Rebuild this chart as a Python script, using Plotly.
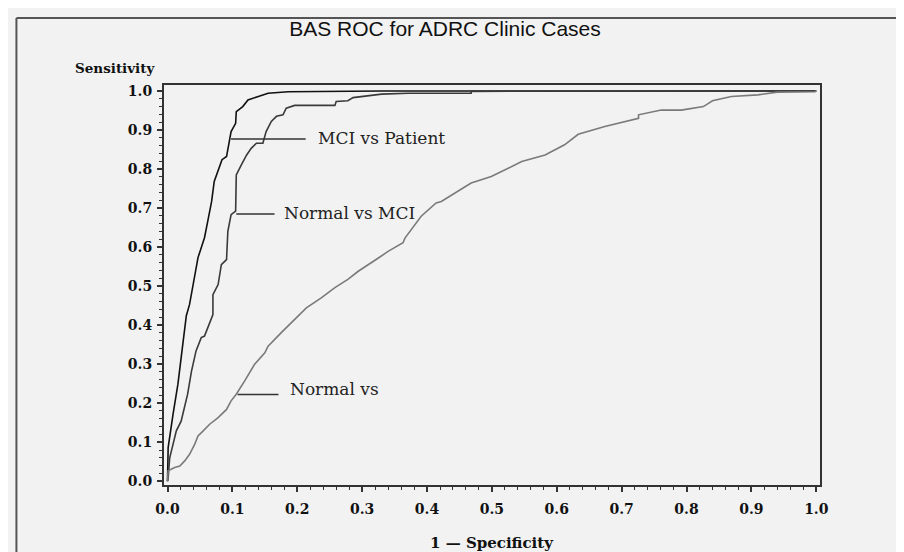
import plotly.graph_objects as go

# ---- data ----
mci_vs_patient_x = [0.0, 0.001, 0.0085, 0.016, 0.021, 0.025, 0.029, 0.034, 0.041, 0.047, 0.052, 0.057,
                    0.062, 0.068, 0.072, 0.078, 0.084, 0.091, 0.096, 0.098, 0.105, 0.106, 0.116, 0.124,
                    0.140, 0.155, 0.186, 0.33, 1.0]
mci_vs_patient_y = [0.0, 0.086, 0.171, 0.248, 0.316, 0.376, 0.424, 0.453, 0.522, 0.573, 0.598, 0.624,
                    0.666, 0.717, 0.768, 0.794, 0.824, 0.832, 0.875, 0.896, 0.917, 0.947, 0.960, 0.977,
                    0.986, 0.994, 0.998, 1.0, 1.0]

normal_vs_mci_x = [0.0, 0.001, 0.0034, 0.0085, 0.0136, 0.021, 0.0265, 0.031, 0.037, 0.044, 0.052, 0.057,
                   0.062, 0.070, 0.070, 0.078, 0.083, 0.091, 0.093, 0.098, 0.105, 0.106, 0.114, 0.122,
                   0.129, 0.137, 0.147, 0.152, 0.160, 0.168, 0.178, 0.183, 0.196, 0.258, 0.260, 0.278,
                   0.286, 0.304, 0.330, 0.371, 0.468, 0.468, 1.0]
normal_vs_mci_y = [0.0, 0.009, 0.060, 0.095, 0.129, 0.154, 0.197, 0.223, 0.282, 0.334, 0.368, 0.372,
                   0.393, 0.427, 0.478, 0.504, 0.555, 0.568, 0.640, 0.683, 0.692, 0.785, 0.811, 0.836,
                   0.853, 0.866, 0.866, 0.896, 0.922, 0.935, 0.939, 0.956, 0.963, 0.963, 0.973, 0.975,
                   0.983, 0.986, 0.992, 0.994, 0.994, 0.999, 1.0]

normal_vs_x = [0.0, 0.001, 0.011, 0.019, 0.0265, 0.034, 0.042, 0.047, 0.055, 0.065, 0.078, 0.091, 0.098,
               0.106, 0.119, 0.134, 0.150, 0.155, 0.175, 0.196, 0.214, 0.237, 0.258, 0.278, 0.294, 0.325,
               0.340, 0.363, 0.366, 0.391, 0.414, 0.422, 0.468, 0.499, 0.546, 0.582, 0.612, 0.633, 0.674,
               0.726, 0.726, 0.761, 0.792, 0.826, 0.840, 0.869, 0.910, 0.940, 0.998, 1.0]
normal_vs_y = [0.0, 0.027, 0.035, 0.039, 0.052, 0.069, 0.095, 0.116, 0.129, 0.146, 0.163, 0.184, 0.206,
               0.223, 0.257, 0.299, 0.329, 0.346, 0.380, 0.414, 0.444, 0.470, 0.496, 0.517, 0.538, 0.572,
               0.589, 0.611, 0.623, 0.679, 0.713, 0.717, 0.764, 0.781, 0.819, 0.836, 0.862, 0.889, 0.909,
               0.930, 0.939, 0.951, 0.951, 0.960, 0.975, 0.986, 0.990, 0.997, 0.998, 1.0]

tick_vals = [0.0, 0.1, 0.2, 0.3, 0.4, 0.5, 0.6, 0.7, 0.8, 0.9, 1.0]
tick_text = ["0.0", "0.1", "0.2", "0.3", "0.4", "0.5", "0.6", "0.7", "0.8", "0.9", "1.0"]

curve_names = ["MCI vs Patient", "Normal vs MCI", "Normal vs"]
curve_colors = ["#111111", "#3a3a3a", "#7a7a7a"]

# ---- layout geometry (pixels) ----
W, H = 904, 552
PL, PR, PT, PB = 156, 811.7, 76.7, 477.5


def px2x(px):
    return (px - PL) / (PR - PL)


def py2y(py):
    return (PB - py) / (PB - PT)


BG = "#f2f2f2"
fig = go.Figure()
for xs, ys, nm, col in [(mci_vs_patient_x, mci_vs_patient_y, curve_names[0], curve_colors[0]),
                        (normal_vs_mci_x, normal_vs_mci_y, curve_names[1], curve_colors[1]),
                        (normal_vs_x, normal_vs_y, curve_names[2], curve_colors[2])]:
    fig.add_trace(go.Scatter(x=xs, y=ys, mode="lines", name=nm,
                             line=dict(color=col, width=1.6), showlegend=False))

tickfont = dict(family="DejaVu Serif", size=14, color="#111111", weight="bold")
axis_common = dict(showline=True, mirror=True, linecolor="#333333", linewidth=2,
                   showgrid=False, zeroline=False, ticks="outside", ticklen=5, tickwidth=1.5,
                   tickcolor="#333333", tickvals=tick_vals, ticktext=tick_text, tickfont=tickfont)

fig.update_layout(
    width=W, height=H,
    paper_bgcolor=BG, plot_bgcolor=BG,
    margin=dict(l=PL, r=W - PR, t=PT, b=H - PB, autoexpand=False),
    title=dict(text="BAS ROC for ADRC Clinic Cases", x=437 / W, xanchor="center",
               y=1 - 21 / H, yanchor="middle",
               font=dict(family="Liberation Sans", size=21, color="#111111")),
    xaxis=dict(range=[-0.0054, 1.0057], ticklabelstandoff=5,
               minor=dict(dtick=0.02, ticks="outside", ticklen=3, tickcolor="#333333", tickwidth=1),
               **axis_common),
    yaxis=dict(range=[-0.0097, 1.0153], ticklabelstandoff=2,
               minor=dict(dtick=0.02, ticks="outside", ticklen=3, tickcolor="#333333", tickwidth=1),
               **axis_common),
)

# axis titles placed as in the reference
fig.add_annotation(text="Sensitivity", xref="paper", yref="paper", x=px2x(149), y=py2y(60),
                   xanchor="right", yanchor="middle", showarrow=False,
                   font=dict(family="DejaVu Serif", size=13.5, color="#111111", weight="bold"))
fig.add_annotation(text="1 \u2014 Specificity", xref="paper", yref="paper", x=0.5, y=py2y(536),
                   xanchor="center", yanchor="middle", showarrow=False,
                   font=dict(family="DejaVu Serif", size=15, color="#111111", weight="bold"))

# curve labels with leader lines
labels = [("MCI vs Patient", 0.098, 0.213, 0.877, 0.229, 0.880),
          ("Normal vs MCI", 0.106, 0.165, 0.685, 0.177, 0.687),
          ("Normal vs", 0.108, 0.171, 0.2225, 0.185, 0.236)]
for txt, x0, x1, ly, tx, ty in labels:
    fig.add_shape(type="line", xref="x", yref="y", x0=x0, x1=x1, y0=ly, y1=ly,
                  line=dict(color="#333333", width=1.5))
    fig.add_annotation(text=txt, xref="x", yref="y", x=tx, y=ty, xanchor="left", yanchor="middle",
                       showarrow=False, font=dict(family="DejaVu Serif", size=17, color="#222222"))

# outer frame (top and left edges)
fig.add_shape(type="line", xref="paper", yref="paper", x0=px2x(8.5), x1=px2x(910), y0=py2y(9.5), y1=py2y(9.5),
              line=dict(color="#555555", width=2))
fig.add_shape(type="line", xref="paper", yref="paper", x0=px2x(8.5), x1=px2x(8.5), y0=py2y(9.5), y1=py2y(560),
              line=dict(color="#555555", width=2))

fig.write_html("out.html")
